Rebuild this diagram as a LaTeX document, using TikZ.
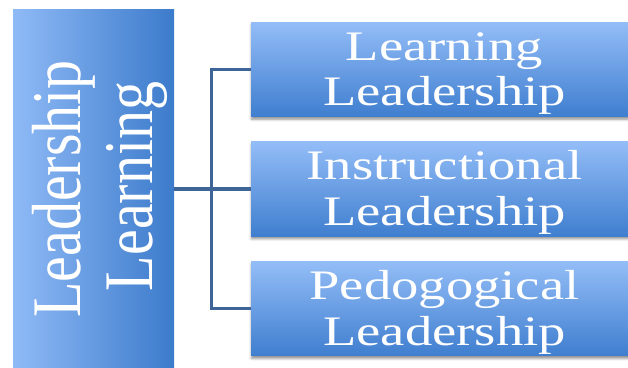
\documentclass[tikz,border=0pt]{standalone}
\usepackage{fontspec}
\setmainfont{Liberation Serif}
\usetikzlibrary{shadows.blur}
\definecolor{boxlight}{HTML}{93BDF7}
\definecolor{boxdark}{HTML}{3F7ECF}
\definecolor{rootlight}{HTML}{8FBAF6}
\definecolor{rootdark}{HTML}{3C7BCB}
\definecolor{linkblue}{HTML}{3D6597}
\begin{document}
\begin{tikzpicture}[x=1pt,y=1pt,
  topicbox/.style={rectangle, minimum width=389pt, minimum height=94.5pt,
    inner sep=0pt, top color=boxlight, bottom color=boxdark,
    blur shadow={shadow xshift=0.5pt, shadow yshift=-2.5pt,
      shadow blur radius=2.5pt, shadow opacity=45}},
  rootbox/.style={rectangle, minimum width=161pt, minimum height=365pt,
    inner sep=0pt, left color=rootlight, right color=rootdark},
  boxtext/.style={text=white, inner sep=0pt, anchor=base,
    font=\fontsize{42}{44}\selectfont},
  roottext/.style={text=white, inner sep=0pt, anchor=base, rotate=90,
    font=\fontsize{58}{60}\selectfont},
  link/.style={draw=linkblue, line width=3.2pt}
]
\useasboundingbox (0,0) rectangle (628,367);
\clip (0,0) rectangle (628,367);

% main topic, running off the lower edge
\node[rootbox] (root) at (93.5,174.5) {};
\node[roottext] (r1) at (80,178) {\scalebox{1}[1.2]{Leadership}};
\node[roottext] (r2) at (152,180.5) {\scalebox{1}[1.2]{Learning}};

% sub-topics, running off the right edge
\node[topicbox] (b1) at (445.5,297.5) {};
\node[topicbox] (b2) at (445.5,178) {};
\node[topicbox] (b3) at (445.5,58.3) {};

\node[boxtext] (t1a) at (444.5,306.7) {\scalebox{1.3}[1]{Learning}};
\node[boxtext] (t1b) at (444.5,261.2) {\scalebox{1.3}[1]{Leadership}};
\node[boxtext] (t2a) at (444.5,187) {\scalebox{1.3}[1]{Instructional}};
\node[boxtext] (t2b) at (444.5,141.5) {\scalebox{1.3}[1]{Leadership}};
\node[boxtext] (t3a) at (444.5,67.3) {\scalebox{1.3}[1]{Pedogogical}};
\node[boxtext] (t3b) at (444.5,21.8) {\scalebox{1.3}[1]{Leadership}};

% bracket connectors
\coordinate (hub) at (211.7,178);
\draw[link] (root.east |- b2.west) -- (b2.west);
\draw[link] (b1.west) -- (b1.west -| hub) -- (b3.west -| hub) -- (b3.west);
\end{tikzpicture}
\end{document}
